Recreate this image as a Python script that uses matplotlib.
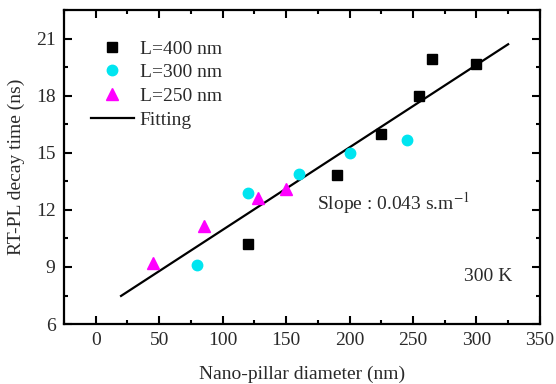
import matplotlib.pyplot as plt
from matplotlib.ticker import MultipleLocator

# Data
d400 = [120, 190, 225, 255, 265, 300]
t400 = [10.2, 13.85, 16.0, 18.0, 19.95, 19.65]

d300 = [80, 120, 160, 200, 245]
t300 = [9.13, 12.87, 13.87, 15.0, 15.67]

d250 = [45, 85, 128, 150]
t250 = [9.2, 11.15, 12.6, 13.1]

fit_x = [20, 325]
fit_y = [7.48, 20.7]

plt.rcParams['font.family'] = ['Liberation Serif', 'DejaVu Serif']
plt.rcParams['mathtext.fontset'] = 'stix'

txt = '#2a2a2a'
fig = plt.figure(figsize=(5.56, 3.84), dpi=100)
ax = fig.add_axes([0.115, 0.156, 0.856, 0.818])

ax.plot(d400, t400, 's', color='black', markersize=6.5, label='L=400 nm', zorder=3)
ax.plot(d300, t300, 'o', color='#00e5f0', markersize=7.5, label='L=300 nm', zorder=3)
ax.plot(d250, t250, '^', color='magenta', markersize=8.5, label='L=250 nm', zorder=3)
ax.plot(fit_x, fit_y, '-', color='black', linewidth=1.6, label='Fitting', zorder=2)

ax.set_xlim(-25, 350)
ax.set_ylim(6, 22.5)
ax.xaxis.set_major_locator(MultipleLocator(50))
ax.xaxis.set_minor_locator(MultipleLocator(25))
ax.yaxis.set_major_locator(MultipleLocator(3))
ax.yaxis.set_minor_locator(MultipleLocator(1.5))
ax.tick_params(which='both', direction='in', top=True, right=True, labelsize=14,
               colors='black', labelcolor=txt)
ax.tick_params(which='major', length=6, width=1.5, pad=6)
ax.tick_params(which='minor', length=3, width=1.5)
for s in ax.spines.values():
    s.set_linewidth(1.6)

ax.set_xlabel('Nano-pillar diameter (nm)', fontsize=14, color=txt, labelpad=12)
ax.set_ylabel('RT-PL decay time (ns)', fontsize=14, color=txt, labelpad=8)

ax.text(174, 12.35, 'Slope : 0.043 s.m$^{-1}$', fontsize=14, color=txt, va='center')
ax.text(290, 8.5, '300 K', fontsize=14, color=txt, va='center')

ax.legend(loc='upper left', frameon=False, fontsize=14, handlelength=2.2,
          handletextpad=0.3, labelspacing=0.31, borderaxespad=0.5,
          bbox_to_anchor=(0.02, 0.96), labelcolor=txt)

fig.savefig('out.png', dpi=100)
